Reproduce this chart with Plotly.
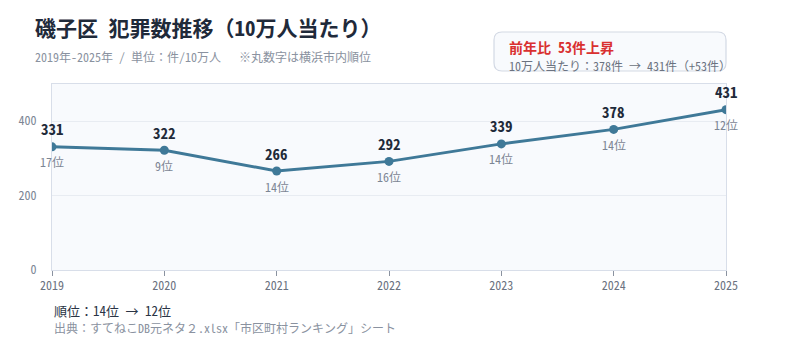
import plotly.graph_objects as go

years = [2019, 2020, 2021, 2022, 2023, 2024, 2025]
values = [331, 322, 266, 292, 339, 378, 431]
ranks = ["17位", "9位", "14位", "16位", "14位", "14位", "12位"]
y_ticks = [0, 200, 400]

FONT = "Noto Sans Mono CJK JP, Noto Sans CJK JP"
LINE = "#3f7998"

fig = go.Figure()
fig.add_trace(go.Scatter(
    x=years, y=values, mode="lines+markers",
    line=dict(color=LINE, width=3),
    marker=dict(size=9, color=LINE),
    hoverinfo="skip", showlegend=False,
))

ann = []
for x, v, r in zip(years, values, ranks):
    ann.append(dict(x=x, y=v, xref="x", yref="y", text=f"<b>{v}</b>", showarrow=False,
                    yshift=18, font=dict(family=FONT, size=15, color="#1f2a3a")))
    ann.append(dict(x=x, y=v, xref="x", yref="y", text=r, showarrow=False,
                    yshift=-15, font=dict(family=FONT, size=12, color="#7c8594")))

ann += [
    dict(x=33, y=27, text="<b>磯子区 犯罪数推移（10万人当たり）</b>",
         showarrow=False, xanchor="left", yanchor="middle",
         font=dict(family=FONT, size=21, color="#1f2a3a")),
    dict(x=33, y=57, text="2019年-2025年 / 単位：件/10万人　 ※丸数字は横浜市内順位",
         showarrow=False, xanchor="left", yanchor="middle",
         font=dict(family=FONT, size=12, color="#8a92a0")),
    dict(x=507, y=47, text="<b>前年比 53件上昇</b>", showarrow=False, xanchor="left", yanchor="middle",
         font=dict(family=FONT, size=14, color="#d93030")),
    dict(x=507, y=65, text="10万人当たり：378件 → 431件（+53件）", showarrow=False,
         xanchor="left", yanchor="middle", font=dict(family=FONT, size=12, color="#6b7280")),
    dict(x=52, y=310, text="順位：14位 → 12位", showarrow=False, xanchor="left", yanchor="middle",
         font=dict(family=FONT, size=13, color="#2a3445")),
    dict(x=52, y=327, text="出典：すてねこDB元ネタ２.xlsx「市区町村ランキング」シート", showarrow=False,
         xanchor="left", yanchor="middle", font=dict(family=FONT, size=12, color="#8a92a0")),
]

W, H = 800, 347
ml, mr, mt, mb = 52, 74, 84, 77
pw, ph = W - ml - mr, H - mt - mb
for a in ann:
    if a.get("xref") != "x":
        a["xref"] = "paper"; a["yref"] = "paper"
        a["x"] = (a["x"] - ml) / pw
        a["y"] = (H - mb - a["y"]) / ph

def px(x): return (x - ml) / pw
def py(y): return (H - mb - y) / ph

bx0, bx1, by0, by1, rr = 494, 726, 32, 71, 8
path = (f"M {px(bx0+rr)} {py(by0)} L {px(bx1-rr)} {py(by0)} "
        f"Q {px(bx1)} {py(by0)} {px(bx1)} {py(by0+rr)} L {px(bx1)} {py(by1-rr)} "
        f"Q {px(bx1)} {py(by1)} {px(bx1-rr)} {py(by1)} L {px(bx0+rr)} {py(by1)} "
        f"Q {px(bx0)} {py(by1)} {px(bx0)} {py(by1-rr)} L {px(bx0)} {py(by0+rr)} "
        f"Q {px(bx0)} {py(by0)} {px(bx0+rr)} {py(by0)} Z")

fig.update_layout(
    width=W, height=H,
    margin=dict(l=ml, r=mr, t=mt, b=mb),
    paper_bgcolor="white", plot_bgcolor="#f8fafd",
    font=dict(family=FONT, size=12, color="#7c8594"),
    annotations=ann,
    shapes=[dict(type="path", xref="paper", yref="paper", path=path,
                 line=dict(color="#d3d9e4", width=1.2), fillcolor="#f8fafd", layer="below")],
    xaxis=dict(range=[2019, 2025], tickvals=years, ticktext=[str(y) for y in years],
               showgrid=False, zeroline=False, showline=True, linecolor="#d8dee9", mirror=True,
               ticks="outside", ticklen=5, tickcolor="#8a92a0", automargin=False,
               tickfont=dict(family=FONT, size=12, color="#6b7280")),
    yaxis=dict(range=[0, 500], tickvals=y_ticks, showgrid=True, gridcolor="#e8ecf2",
               zeroline=False, showline=True, linecolor="#d8dee9", mirror=True,
               ticks="", ticklabelstandoff=12, automargin=False,
               tickfont=dict(family=FONT, size=12, color="#7c8594")),
)

fig.write_html("out.html")
